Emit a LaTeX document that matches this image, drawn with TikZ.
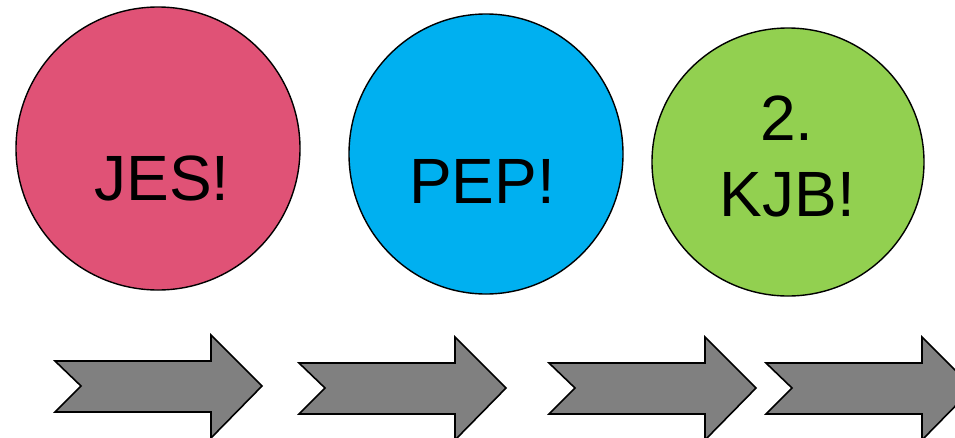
\documentclass[tikz,border=0pt]{standalone}
\usepackage{fontspec}
\setmainfont{Liberation Sans}
\usetikzlibrary{shapes.geometric}
\definecolor{jesred}{HTML}{E05276}
\definecolor{pepblue}{HTML}{00B0F0}
\definecolor{kjbgreen}{HTML}{92D050}
\definecolor{arrowgray}{HTML}{808080}
\tikzset{
  bubble/.style={ellipse, draw=black, line width=1.4pt, inner sep=0pt},
  lbl/.style={anchor=base, inner sep=0pt, font=\fontsize{64}{76}\selectfont},
  chevron/.style={fill=arrowgray, draw=black, line width=1.6pt, line join=miter},
  pics/chev/.style={code={
    \path[chevron] (0,0) -- (156,0) -- (156,-26) -- (207,25) -- (156,77) -- (156,51)
      -- (0,51) -- (26,25) -- cycle;
  }}
}
\begin{document}
\begin{tikzpicture}[x=1pt,y=-1pt]
\useasboundingbox (0,0) rectangle (955,437);
\clip (0,0) rectangle (955,437);
\fill[white] (0,0) rectangle (955,437);
% circles
\node[bubble, fill=jesred, minimum width=284pt, minimum height=283pt] (jes) at (158,148.5) {};
\node[bubble, fill=pepblue, minimum width=274pt, minimum height=280pt] (pep) at (486,154) {};
\node[bubble, fill=kjbgreen, minimum width=272pt, minimum height=268pt] (kjb) at (788,162) {};
% labels
\node[lbl] (jest) at (162,200) {JES!};
\node[lbl] (pept) at (482,203) {PEP!};
\node[lbl] (kjbt1) at (787,140) {2.};
\node[lbl] (kjbt2) at (787.5,216) {KJB!};
% chevron arrows
\pic (a1) at (55,361) {chev};
\pic (a2) at (299,363) {chev};
\pic (a3) at (549,363) {chev};
\pic (a4) at (766,363) {chev};
\end{tikzpicture}
\end{document}
